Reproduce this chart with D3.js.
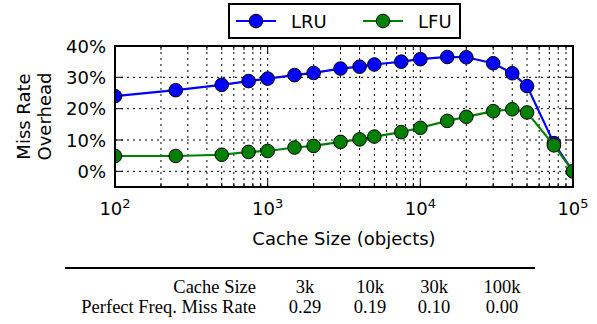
<!DOCTYPE html>
<html>
<head>
<meta charset="utf-8">
<script src="https://cdn.jsdelivr.net/npm/d3@7"></script>
<style>
  html, body { margin: 0; padding: 0; background: #fff; }
  svg { display: block; font-family: "DejaVu Sans", sans-serif; }
</style>
</head>
<body>
<svg id="chart"></svg>
<script>
// cache sizes (objects)
const cacheSizes = [100, 250, 500, 750, 1000, 1500, 2000, 3000, 4000, 5000, 7500,
  10000, 15000, 20000, 30000, 40000, 50000, 75000, 100000];
// miss rate overhead
const lruValues = [0.240, 0.259, 0.276, 0.288, 0.296, 0.307, 0.314, 0.328, 0.334, 0.341, 0.350,
  0.358, 0.365, 0.364, 0.345, 0.313, 0.272, 0.090, 0.000];
const lfuValues = [0.049, 0.049, 0.053, 0.062, 0.065, 0.076, 0.081, 0.094, 0.102, 0.111, 0.125,
  0.139, 0.161, 0.174, 0.192, 0.198, 0.188, 0.083, 0.000];

const yTicks = [0, 0.1, 0.2, 0.3, 0.4];
const xTickExps = [2, 3, 4, 5];

const tableHeader = ['Cache Size', '3k', '10k', '30k', '100k'];
const tableRow = ['Perfect Freq. Miss Rate', '0.29', '0.19', '0.10', '0.00'];

const width = 597, height = 324;
const margin = { top: 46, right: 24, bottom: 137, left: 115 };
const plotW = width - margin.left - margin.right;
const plotH = height - margin.top - margin.bottom;

const svg = d3.select('#chart')
  .attr('width', width)
  .attr('height', height)
  .attr('viewBox', `0 0 ${width} ${height}`);

svg.append('rect').attr('width', width).attr('height', height).attr('fill', '#fff');

const x = d3.scaleLog().domain([100, 100000]).range([0, plotW]);
const y = d3.scaleLinear().domain([-0.05, 0.40]).range([plotH, 0]);

const g = svg.append('g').attr('transform', `translate(${margin.left}, ${margin.top})`);

// minor + major x positions
const minorX = [];
[100, 1000, 10000].forEach(base => {
  for (let k = 2; k <= 9; k++) minorX.push(base * k);
});
const majorX = xTickExps.map(e => Math.pow(10, e));

// Grid (dotted)
const grid = g.append('g')
  .attr('stroke', '#000')
  .attr('stroke-width', 1)
  .attr('stroke-dasharray', '2,4');
minorX.concat(majorX.slice(1, 3)).forEach(v => {
  grid.append('line')
    .attr('x1', x(v)).attr('x2', x(v))
    .attr('y1', 0).attr('y2', plotH);
});
yTicks.forEach(v => {
  grid.append('line')
    .attr('x1', 0).attr('x2', plotW)
    .attr('y1', y(v)).attr('y2', y(v));
});

// Tick marks (inward, all four sides)
const ticks = g.append('g').attr('stroke', '#000').attr('stroke-width', 1);
majorX.forEach(v => {
  ticks.append('line').attr('x1', x(v)).attr('x2', x(v)).attr('y1', plotH).attr('y2', plotH - 8);
  ticks.append('line').attr('x1', x(v)).attr('x2', x(v)).attr('y1', 0).attr('y2', 8);
});
minorX.forEach(v => {
  ticks.append('line').attr('x1', x(v)).attr('x2', x(v)).attr('y1', plotH).attr('y2', plotH - 4);
  ticks.append('line').attr('x1', x(v)).attr('x2', x(v)).attr('y1', 0).attr('y2', 4);
});
yTicks.forEach(v => {
  ticks.append('line').attr('x1', 0).attr('x2', 8).attr('y1', y(v)).attr('y2', y(v));
  ticks.append('line').attr('x1', plotW).attr('x2', plotW - 8).attr('y1', y(v)).attr('y2', y(v));
});

// Series
const line = d3.line()
  .x(d => x(d[0]))
  .y(d => y(d[1]));

const series = [
  { name: 'LRU', values: lruValues, color: '#0000ff' },
  { name: 'LFU', values: lfuValues, color: '#008000' }
];

const clip = svg.append('defs').append('clipPath').attr('id', 'plot-clip');
clip.append('rect').attr('x', -1).attr('y', -1).attr('width', plotW + 2).attr('height', plotH + 2);

series.forEach(s => {
  const pts = cacheSizes.map((c, i) => [c, s.values[i]]);
  const sg = g.append('g').attr('clip-path', 'url(#plot-clip)');
  sg.append('path')
    .datum(pts)
    .attr('fill', 'none')
    .attr('stroke', s.color)
    .attr('stroke-width', 2.2)
    .attr('d', line);
  sg.selectAll('circle')
    .data(pts)
    .join('circle')
    .attr('cx', d => x(d[0]))
    .attr('cy', d => y(d[1]))
    .attr('r', 6.8)
    .attr('fill', s.color)
    .attr('stroke', '#000')
    .attr('stroke-width', 1);
});

// Frame
g.append('rect')
  .attr('width', plotW).attr('height', plotH)
  .attr('fill', 'none')
  .attr('stroke', '#000')
  .attr('stroke-width', 2);

// Y tick labels
g.selectAll('.ylab')
  .data(yTicks)
  .join('text')
  .attr('class', 'ylab')
  .attr('x', -9)
  .attr('y', d => y(d) + 6.5)
  .attr('text-anchor', 'end')
  .attr('font-size', '18px')
  .text(d => `${Math.round(d * 100)}%`);

// X tick labels (10^n)
xTickExps.forEach(e => {
  const t = g.append('text')
    .attr('x', x(Math.pow(10, e)))
    .attr('y', plotH + 28)
    .attr('text-anchor', 'middle')
    .attr('font-size', '18px');
  t.append('tspan').text('10');
  t.append('tspan').attr('dy', -7).attr('font-size', '13px').text(e);
});

// Axis labels
svg.append('text')
  .attr('x', margin.left + plotW / 2)
  .attr('y', 245)
  .attr('text-anchor', 'middle')
  .attr('font-size', '18px')
  .text('Cache Size (objects)');

const yl = svg.append('text')
  .attr('transform', `translate(30, ${margin.top + plotH / 2}) rotate(-90)`)
  .attr('text-anchor', 'middle')
  .attr('font-size', '18px');
yl.append('tspan').attr('x', 0).attr('dy', 0).text('Miss Rate');
yl.append('tspan').attr('x', 0).attr('dy', 21).text('Overhead');

// Legend
const lg = svg.append('g').attr('transform', 'translate(229, 4)');
lg.append('rect')
  .attr('width', 231).attr('height', 34)
  .attr('fill', '#fff')
  .attr('stroke', '#000')
  .attr('stroke-width', 2);
series.forEach((s, i) => {
  const ox = 7 + i * 127;
  lg.append('line')
    .attr('x1', ox).attr('x2', ox + 40)
    .attr('y1', 17).attr('y2', 17)
    .attr('stroke', s.color).attr('stroke-width', 2.2);
  lg.append('circle')
    .attr('cx', ox + 20).attr('cy', 17).attr('r', 6.8)
    .attr('fill', s.color).attr('stroke', '#000').attr('stroke-width', 1);
  lg.append('text')
    .attr('x', ox + 55).attr('y', 24)
    .attr('font-size', '18px')
    .text(s.name);
});

// Table below chart
svg.append('line')
  .attr('x1', 65).attr('x2', 535)
  .attr('y1', 268).attr('y2', 268)
  .attr('stroke', '#000').attr('stroke-width', 2);

const colX = [256, 305, 370, 434, 502];
[tableHeader, tableRow].forEach((row, r) => {
  row.forEach((cell, c) => {
    svg.append('text')
      .attr('x', colX[c])
      .attr('y', 293 + r * 20)
      .attr('text-anchor', c === 0 ? 'end' : 'middle')
      .attr('font-family', '"Liberation Serif", "Times New Roman", serif')
      .attr('font-size', '18.5px')
      .text(cell);
  });
});
</script>
</body>
</html>
